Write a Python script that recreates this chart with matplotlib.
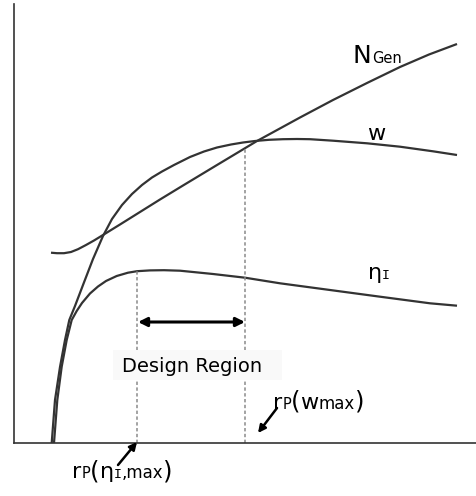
import numpy as np
import matplotlib
matplotlib.use("Agg")
import matplotlib.pyplot as plt
from matplotlib.patches import Rectangle
from matplotlib.transforms import offset_copy

# rotor radius (x) vs. generator speed, power coefficient and efficiency (arbitrary units)
r_gen = [37, 43, 50, 57, 64, 72, 80, 89, 106, 126, 146, 169, 203, 233, 243, 286, 319,
         353, 386, 415, 443]
n_gen = [190.3, 189.8, 189.8, 191, 193.8, 198, 202.5, 208, 218.5, 231, 243.5, 257.5, 278,
         296, 302, 325.5, 343, 360, 376, 388.5, 399]

r_w = [37.7, 41, 46, 51, 55.3, 61, 69, 79, 89, 98, 108, 118, 128, 138, 148, 160, 176, 190,
       203, 217, 229, 241, 255, 269, 283, 296, 319, 353, 386, 419, 443]
w_vals = [0, 43, 76, 103, 123, 137, 158, 184, 207, 224, 238, 249, 258, 265.5, 271.5, 278,
          286, 291.5, 295.5, 298.5, 300.5, 302, 303.2, 303.8, 304, 303.8, 302.3, 299.7,
          296.3, 291.7, 288]

r_eta = [40, 43.3, 47.7, 52.7, 57.7, 62.7, 68, 76, 84, 92, 102.7, 114, 123, 136, 150, 166,
         199, 231, 266, 316, 366, 416, 443]
eta_vals = [0, 43, 76.3, 103, 123, 132, 140, 149.5, 156.5, 162, 167, 170.3, 171.8, 172.6,
            172.8, 172.3, 169, 165.3, 159.7, 153, 146.3, 139.7, 137.3]

r_eta_max = 123
r_w_max = 231

curve_color = "#333333"

fig = plt.figure(figsize=(4.77, 4.96), dpi=100)
ax = fig.add_axes([14 / 477, 53 / 496, 463 / 477, 439 / 496])
ax.set_xlim(0, 463)
ax.set_ylim(0, 439)
for side in ["top", "right"]:
    ax.spines[side].set_visible(False)
for side in ["left", "bottom"]:
    ax.spines[side].set_color("#333333")
    ax.spines[side].set_linewidth(1.2)
ax.set_xticks([])
ax.set_yticks([])

for xs, ys in [(r_gen, n_gen), (r_w, w_vals), (r_eta, eta_vals)]:
    ax.plot(xs, ys, color=curve_color, lw=1.6, solid_capstyle="butt",
            solid_joinstyle="round")

# dashed markers for the two optimum radii
top_eta = np.interp(r_eta_max, r_eta, eta_vals)
top_w = np.interp(r_w_max, r_gen, n_gen)
ax.plot([r_eta_max, r_eta_max], [0, top_eta], color="#8a8a8a", lw=1.1, ls=(0, (2.2, 1.6)))
ax.plot([r_w_max, r_w_max], [0, top_w], color="#8a8a8a", lw=1.1, ls=(0, (2.2, 1.6)))

# design region span
ax.annotate("", xy=(r_w_max, 121), xytext=(r_eta_max + 1, 121),
            arrowprops=dict(arrowstyle="<|-|>", lw=2.2, color="black",
                            mutation_scale=13, shrinkA=0, shrinkB=0))
ax.add_patch(Rectangle((99, 63), 169, 30, fc="#f9f9f9", ec="none", zorder=3))
ax.text((r_eta_max + r_w_max) / 2 + 1, 77, "Design Region", fontsize=14,
        ha="center", va="center", color="black", zorder=4)

# pointer arrows to the optimum radii
ax.annotate("", xy=(244, 10), xytext=(263, 35), annotation_clip=False,
            arrowprops=dict(arrowstyle="-|>", lw=1.8, color="black",
                            mutation_scale=11, shrinkA=0, shrinkB=0))
ax.annotate("", xy=(123, 1), xytext=(104, -22), annotation_clip=False,
            arrowprops=dict(arrowstyle="-|>", lw=1.8, color="black",
                            mutation_scale=11, shrinkA=0, shrinkB=0))

renderer = fig.canvas.get_renderer()


def label(parts, x, y):
    # draw pieces of different sizes one after another on a common baseline
    dx = 0
    for piece in parts:
        s, size = piece[0], piece[1]
        family = piece[2] if len(piece) > 2 else "DejaVu Sans"
        tr = offset_copy(ax.transData, fig=fig, x=dx, y=0, units="dots")
        t = ax.text(x, y, s, fontsize=size, va="baseline", ha="left", family=family,
                    transform=tr, clip_on=False, color="black")
        dx += t.get_window_extent(renderer).width


label([("N", 18), ("Gen", 10.5)], 339, 380)
label([("w", 16)], 353, 303)
label([("η", 16), ("I", 9.5, "DejaVu Sans Mono")], 354, 164)
label([("r", 16), ("P", 10.5), ("(", 17.5), ("w", 16), ("max", 12), (")", 17.5)], 259, 34)
label([("r", 16), ("P", 10.5), ("(", 17.5), ("η", 16), ("I", 9.5, "DejaVu Sans Mono"),
       (",max", 12), (")", 17.5)], 58, -35)

fig.savefig("out.png", dpi=100)
